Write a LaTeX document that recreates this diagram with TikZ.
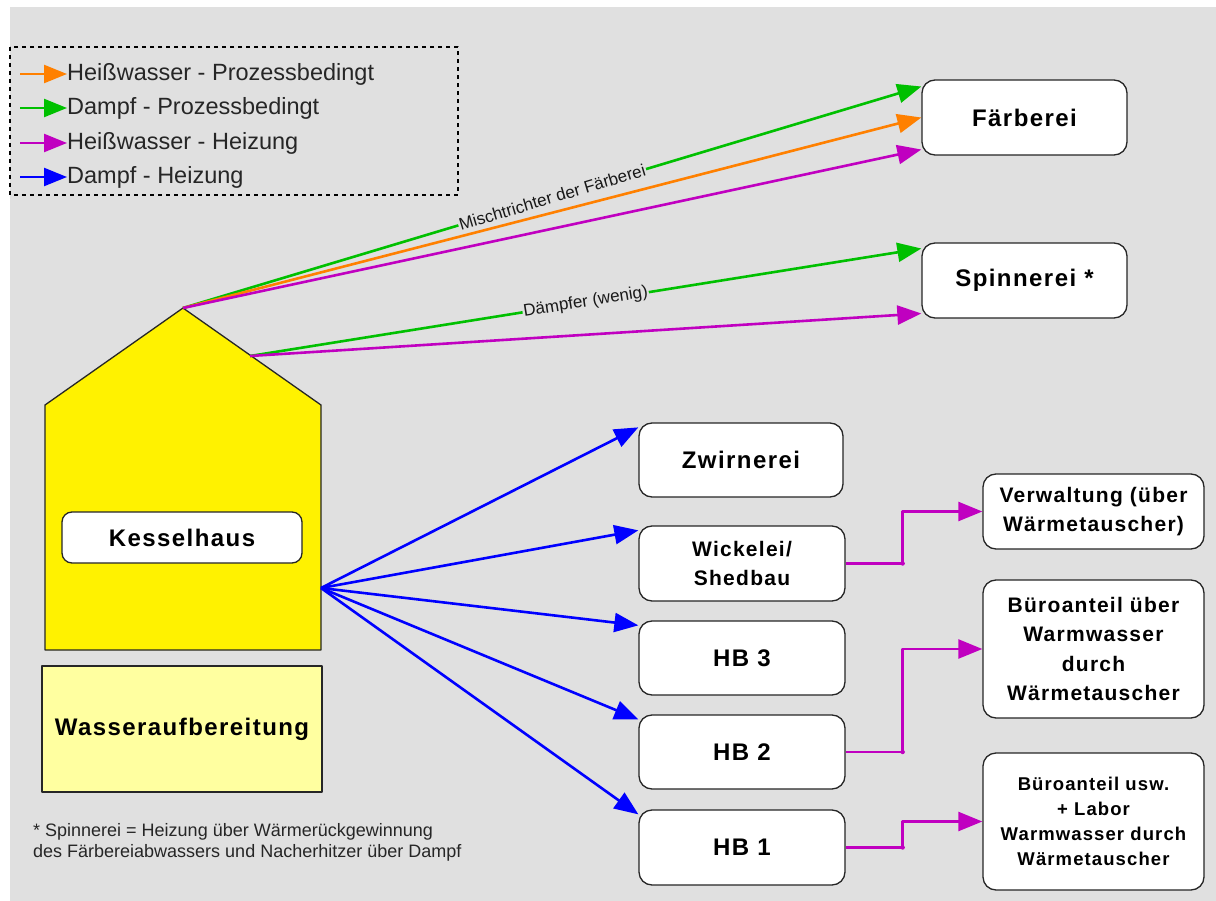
\documentclass[tikz,border=0pt]{standalone}
\usepackage{fontspec}
\setmainfont{Liberation Sans}
\newfontfamily\boxfont[LetterSpace=6]{Liberation Sans}
\usetikzlibrary{arrows.meta}
\definecolor{bg}{HTML}{E0E0E0}
\definecolor{hw}{HTML}{FF8000}
\definecolor{dp}{HTML}{00C000}
\definecolor{hz}{HTML}{C000C0}
\definecolor{dh}{HTML}{0000FF}
\definecolor{pale}{HTML}{FFFFA0}
\begin{document}
\begin{tikzpicture}[x=1pt,y=-1pt,line join=round,
	>={Triangle[length=24pt,width=19pt]},
	flow/.style={->,line width=2.6pt},
	box/.style={draw=black!85,line width=1.3pt,fill=white,rounded corners=13pt,inner sep=0pt,align=center,
		font=\boxfont\bfseries\fontsize{24}{29}\selectfont},
	small/.style={font=\boxfont\bfseries\fontsize{21}{29.5}\selectfont},
	tag/.style={fill=bg,text=black!90,sloped,inner sep=1pt,font=\fontsize{17}{17}\selectfont}]
	\useasboundingbox (0,0) rectangle (1216,901);
	\fill[bg] (10,7) rectangle (1216,901);
	% legend
	\draw[line width=1.2pt,dash pattern=on 4pt off 4pt] (10,47) rectangle (458,195);
	\foreach \col/\txt/\y [count=\i] in {hw/Heißwasser - Prozessbedingt/74,dp/Dampf - Prozessbedingt/108,
		hz/Heißwasser - Heizung/143,dh/Dampf - Heizung/177}{
		\node[anchor=west,inner sep=0pt,text=black!85,font=\fontsize{23.5}{23.5}\selectfont] (leg\i) at (67,\y) {\txt};
		\draw[color=\col,line width=2.4pt,-{Triangle[length=23pt,width=18pt]}] (leg\i.west) ++(-47,0) -- (leg\i.west);
	}
	% Kesselhaus
	\path (183,308) coordinate (A)
		(45,405) coordinate (L)
		(321,405) coordinate (R)
		(45,650) coordinate (BL)
		(321,650) coordinate (BR)
		(250,356) coordinate (E)
		(321,588) coordinate (W);
	\draw[fill=yellow,draw=black!85,line width=1.3pt] (A)--(R)--(BR)--(BL)--(L)--cycle;
	\node[box,rounded corners=10pt,minimum width=240pt,minimum height=51pt] (kh) at (182,537.5) {Kesselhaus};
	\node[box,fill=pale,rounded corners=0pt,minimum width=280pt,minimum height=126pt] (wa) at (182,729) {Wasseraufbereitung};
	% Abnehmer
	\node[box,minimum width=205pt,minimum height=75pt] (f) at (1024.5,117.5) {Färberei};
	\node[box,minimum width=205pt,minimum height=75pt] (s) at (1024.5,280.5) {Spinnerei *};
	\node[box,minimum width=204pt,minimum height=74pt] (z) at (741,460) {Zwirnerei};
	\node[box,small,minimum width=206pt,minimum height=75pt] (w) at (742,563.5) {Wickelei/\\Shedbau};
	\node[box,minimum width=206pt,minimum height=74pt] (h3) at (742,658) {HB 3};
	\node[box,minimum width=206pt,minimum height=74pt] (h2) at (742,752) {HB 2};
	\node[box,minimum width=206pt,minimum height=75pt] (h1) at (742,847.5) {HB 1};
	\node[box,small,minimum width=221pt,minimum height=75pt] (v) at (1093.5,511.5) {Verwaltung (über\\Wärmetauscher)};
	\node[box,small,minimum width=221pt,minimum height=138pt] (b1) at (1093.5,649) {Büroanteil über\\Warmwasser\\durch\\Wärmetauscher};
	\node[box,minimum width=221pt,minimum height=137pt,font=\boxfont\bfseries\fontsize{18.5}{25}\selectfont] (b2) at (1093.5,821.5)
		{Büroanteil usw.\\+ Labor\\Warmwasser durch\\Wärmetauscher};
	% Leitungen
	\draw[flow,dp] (A) -- node[tag,pos=.5]{Mischtrichter der Färberei} ([yshift=31pt]f.west);
	\draw[flow,hw] (A) -- (f.west);
	\draw[flow,hz] (A) -- ([yshift=-32pt]f.west);
	\draw[flow,dp] (E) -- node[tag,pos=.5]{Dämpfer (wenig)} ([yshift=32pt]s.west);
	\draw[flow,hz] (E) -- ([yshift=-33pt]s.west);
	\foreach \n in {z,w,h3,h2,h1}
		\draw[flow,dh] (W) -- ([yshift=-5pt]\n.north west);
	\foreach \a/\b in {w/v,h2/b1,h1/b2}{
		\draw[flow,hz,line width=2.4pt] (\a.east) -- ++(57,0) coordinate (k\a) |- (\b.west);
		\fill[hz] (k\a) circle (2.2pt);
	}
	\node[anchor=north west,align=left,inner sep=0pt,text=black!85,font=\fontsize{18}{21}\selectfont] (fn) at (33,823)
		{* Spinnerei = Heizung über Wärmerückgewinnung\\des Färbereiabwassers und Nacherhitzer über Dampf};
\end{tikzpicture}
\end{document}
